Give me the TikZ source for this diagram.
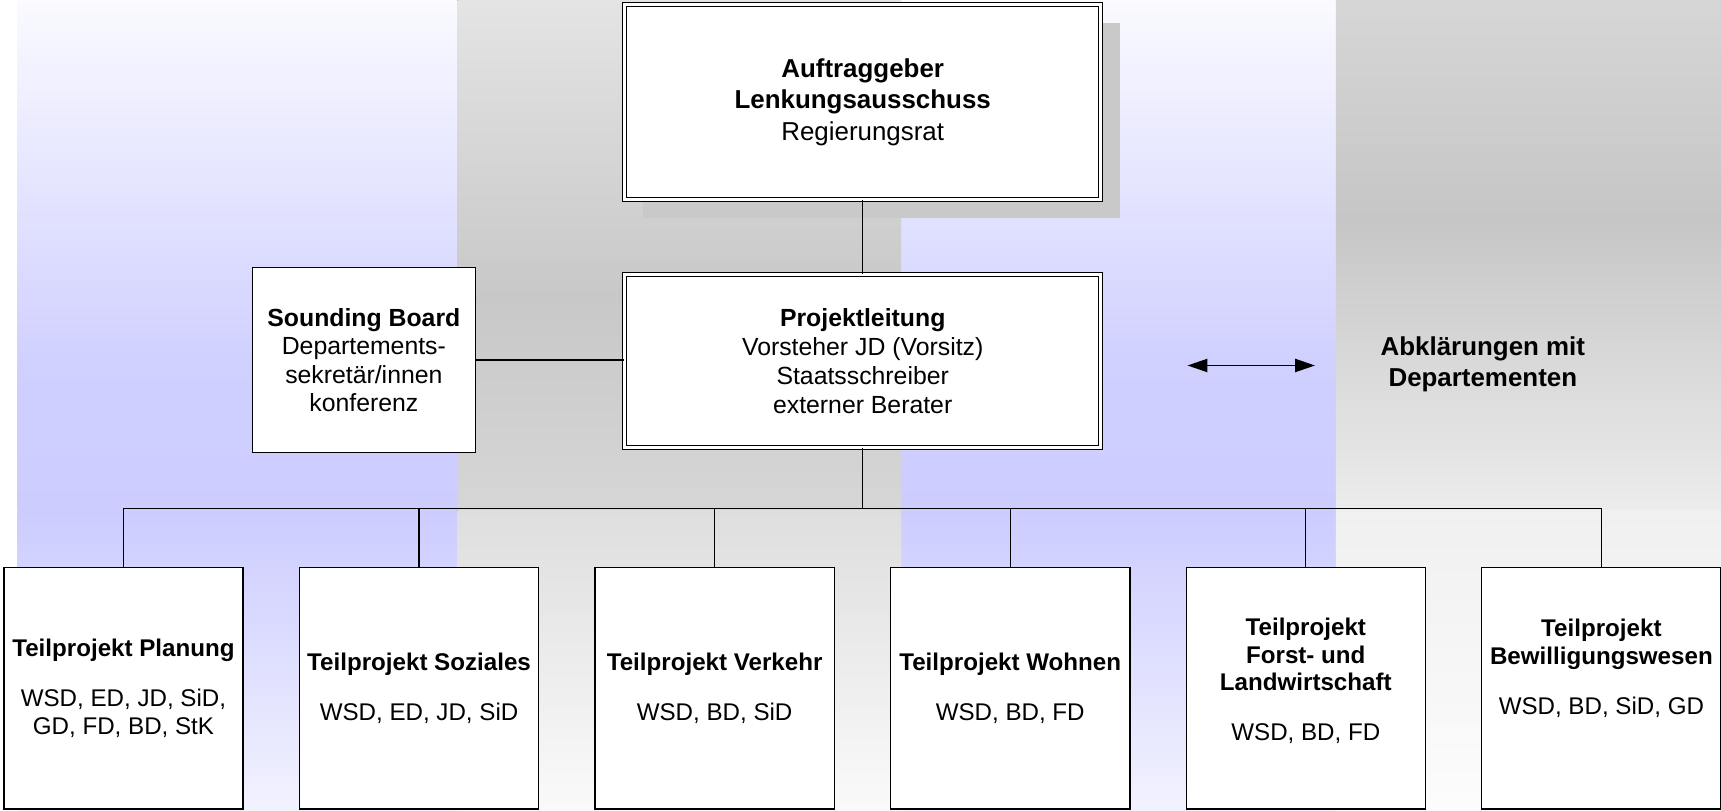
\documentclass[tikz,border=0pt]{standalone}
\usepackage{fontspec}
\setmainfont{Liberation Sans}
\usetikzlibrary{arrows.meta,shadows}

\definecolor{blaupale}{HTML}{FAFAFF}
\definecolor{blaumitte}{HTML}{D0D0FF}
\definecolor{blaudunkel}{HTML}{CCCCFF}
\definecolor{blauunten}{HTML}{F2F2FF}
\definecolor{schatten}{HTML}{C9C9C9}

\tikzset{
  leitbox/.style={draw, fill=white, line width=0.5pt, double=white, double distance=1.3pt,
    align=center, inner sep=0pt, minimum width=217pt},
  seitbox/.style={draw, fill=white, line width=0.6pt, align=center, inner sep=0pt,
    minimum width=101.5pt, minimum height=84pt, font=\fontsize{11.3}{13}\selectfont},
  teilbox/.style={draw, fill=white, line width=0.6pt, align=center, inner sep=0pt,
    minimum width=109pt, minimum height=110pt, font=\fontsize{11}{12.6}\selectfont},
  doppelpfeil/.style={line width=0.7pt, {Triangle[length=9pt,width=6pt]}-{Triangle[length=9pt,width=6pt]}}
}

\begin{document}
\begin{tikzpicture}[x=0.5pt,y=-0.5pt, line width=0.6pt]
  \useasboundingbox (0,0) rectangle (1568,738);

  % Hintergrundstreifen
  \fill[top color=blaupale, bottom color=blaumitte] (16,0) rectangle (417,330);
  \fill[top color=blaumitte, bottom color=blaudunkel] (16,330) rectangle (417,465);
  \fill[top color=blaudunkel, bottom color=blauunten] (16,465) rectangle (417,738);
  \fill[top color=blaupale, bottom color=blaumitte] (821,0) rectangle (1217,330);
  \fill[top color=blaumitte, bottom color=blaudunkel] (821,330) rectangle (1217,465);
  \fill[top color=blaudunkel, bottom color=blauunten] (821,465) rectangle (1217,738);
  \fill[top color={rgb,255:red,228;green,228;blue,228}, bottom color={rgb,255:red,200;green,200;blue,200}] (417,0) rectangle (821,270);
  \fill[top color={rgb,255:red,200;green,200;blue,200}, bottom color={rgb,255:red,214;green,214;blue,214}] (417,270) rectangle (821,465);
  \fill[top color={rgb,255:red,222;green,222;blue,222}, bottom color={rgb,255:red,250;green,250;blue,250}] (417,465) rectangle (821,738);
  \fill[top color={rgb,255:red,214;green,214;blue,214}, bottom color={rgb,255:red,198;green,198;blue,198}] (1217,0) rectangle (1568,200);
  \fill[top color={rgb,255:red,198;green,198;blue,198}, bottom color={rgb,255:red,236;green,236;blue,236}] (1217,200) rectangle (1568,465);
  \fill[top color={rgb,255:red,240;green,240;blue,240}, bottom color={rgb,255:red,252;green,252;blue,252}] (1217,465) rectangle (1568,738);

  \node[leitbox, minimum height=89pt, font=\fontsize{11.8}{14.4}\selectfont,
    general shadow={fill=schatten, shadow xshift=8.5pt, shadow yshift=-8.5pt}](Auftraggeber) at (786,93)
    {\textbf{Auftraggeber}\\\textbf{Lenkungsausschuss}\\Regierungsrat};
  \node[leitbox, minimum height=79pt, font=\fontsize{11.3}{13.2}\selectfont](Projektleitung) at (786,329)
    {\textbf{Projektleitung}\\Vorsteher JD (Vorsitz)\\Staatsschreiber\\externer Berater};
  \node[seitbox](Sounding Board) at (331.5,328)
    {\textbf{Sounding Board}\\Departements-\\sekretär/innen\\konferenz};

  \node[teilbox](Planung) at (112.5,627) {\textbf{Teilprojekt Planung}\\[10pt]WSD, ED, JD, SiD,\\GD, FD, BD, StK};
  \node[teilbox](Soziales) at (381.8,627) {\textbf{Teilprojekt Soziales}\\[10pt]WSD, ED, JD, SiD};
  \node[teilbox](Verkehr) at (651.1,627) {\textbf{Teilprojekt Verkehr}\\[10pt]WSD, BD, SiD};
  \node[teilbox](Wohnen) at (920.4,627) {\textbf{Teilprojekt Wohnen}\\[10pt]WSD, BD, FD};
  \node[teilbox](Forst) at (1189.7,627) {\textbf{Teilprojekt}\\\textbf{Forst- und}\\\textbf{Landwirtschaft}\\[10pt]WSD, BD, FD\\[-4.5pt]\mbox{}};
  \node[teilbox](Bewilligung) at (1459,627) {\textbf{Teilprojekt}\\\textbf{Bewilligungswesen}\\[10pt]WSD, BD, SiD, GD\\[7pt]\mbox{}};

  \node[align=center, font=\fontsize{11.8}{14.4}\selectfont\bfseries](Abklaerungen) at (1351,332) {Abklärungen mit\\Departementen};

  \coordinate (Bus) at (786,463);
  \coordinate (Pfeil links) at (1082,333);
  \coordinate (Pfeil rechts) at (1198,333);

  \draw (Auftraggeber) -- (Projektleitung);
  \draw (Sounding Board.east) -- (Sounding Board.east -| Projektleitung.west);
  \draw (Projektleitung) -- (Bus);
  \draw (Bus) -| (Planung);
  \draw (Bus) -| (Soziales);
  \draw (Bus) -| (Verkehr);
  \draw (Bus) -| (Wohnen);
  \draw (Bus) -| (Forst);
  \draw (Bus) -| (Bewilligung);
  \draw[doppelpfeil] (Pfeil links) -- (Pfeil rechts);
\end{tikzpicture}
\end{document}
